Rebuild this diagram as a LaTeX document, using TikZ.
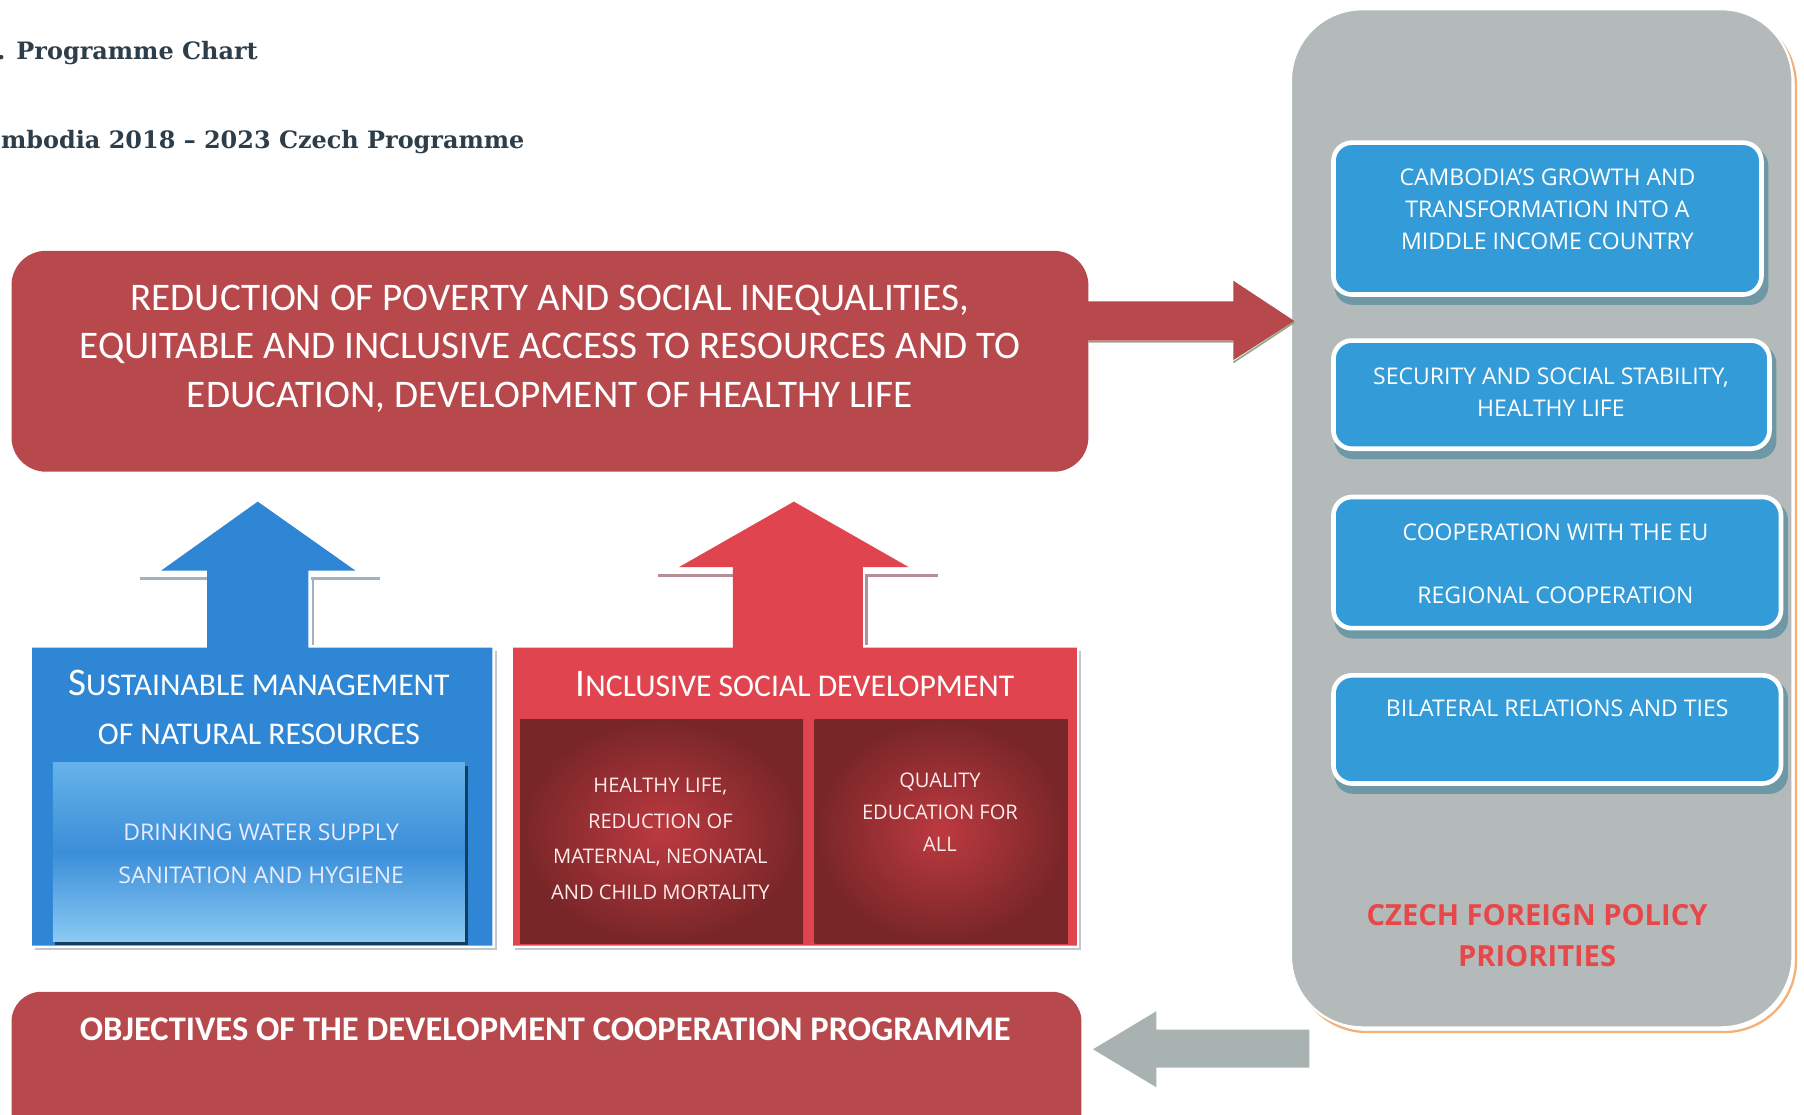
\documentclass[tikz,border=0pt]{standalone}
\usepackage{fontspec}
\newfontfamily\calib{Carlito}
\newfontfamily\osans{Open Sans}
\newfontfamily\dserif{DejaVu Serif}
\usetikzlibrary{calc}
\definecolor{topred}{HTML}{B7484C}
\definecolor{secred}{HTML}{E0454F}
\definecolor{secblue}{HTML}{2E86D4}
\definecolor{pblue}{HTML}{339CD8}
\definecolor{pshadow}{HTML}{6E98A6}
\definecolor{pgray}{HTML}{B4BABA}
\definecolor{garrow}{HTML}{A8B3B1}
\definecolor{titlec}{HTML}{2D3E4A}
\definecolor{czred}{HTML}{E8474A}
\definecolor{porange}{HTML}{F2B07A}
\definecolor{shline}{HTML}{A3B1BE}
\definecolor{ibtop}{HTML}{66B3EA}
\definecolor{ibmid}{HTML}{3A8ED8}
\definecolor{ibbot}{HTML}{8ACAF4}
\definecolor{irin}{HTML}{BC3A40}
\definecolor{irout}{HTML}{782628}
\definecolor{greensh}{HTML}{8FA888}
\tikzset{
  every node/.style={inner sep=0pt, outer sep=0pt},
  bigbox/.style={fill=topred, rounded corners=30pt},
  panelsty/.style={fill=pgray, draw=white, line width=2pt, rounded corners=62pt},
  pbox/.style={fill=pblue, draw=white, line width=4pt, rounded corners=16pt},
  ptext/.style={text=white, align=center, font=\osans\fontsize{20}{27.5}\selectfont},
  redinner/.style={inner color=irin, outer color=irout},
  inntext/.style={text=white!92!red, align=center, font=\osans\fontsize{17.5}{31}\selectfont},
  sectitle/.style={text=white, align=center, font=\calib\fontsize{27.5}{42}\selectfont},
  titletext/.style={text=titlec, font=\dserif\bfseries\fontsize{20.8}{25}\selectfont},
  shadowline/.style={shline, line width=2.5pt},
  edgeline/.style={draw=shline!70!white, line width=1.5pt}
}
\newcommand{\bigini}[1]{{\fontsize{34}{42}\selectfont #1}}
\begin{document}
\begin{tikzpicture}[x=1pt,y=-1pt]
\useasboundingbox (0,0) rectangle (1568,969);
\clip (0,0) rectangle (1568,969);
\fill[white] (0,0) rectangle (1568,969);

% titles (as far as the page shows them)
\node[titletext, anchor=base east] (t1) at (224,52) {. Programme Chart};
\node[titletext, anchor=base west] (t2) at (1,129) {mbodia 2018 – 2023 Czech Programme};

% right panel
\draw[porange, line width=2pt, rounded corners=62pt] (1126,12) rectangle (1561,897);
\node[panelsty, minimum width=436pt, minimum height=885pt] (panel) at (1340,450.5) {};

\fill[pshadow, rounded corners=16pt] (1160,128) rectangle (1537,265);
\node[pbox, minimum width=372pt, minimum height=132pt] (b1) at (1345,190) {};
\node[ptext] (b1t) at (1345,182) {CAMBODIA’S GROWTH AND\\TRANSFORMATION INTO A\\MIDDLE INCOME COUNTRY};

\fill[pshadow, rounded corners=16pt] (1160,300) rectangle (1544,399);
\node[pbox, minimum width=379pt, minimum height=94pt] (b2) at (1348.5,343) {};
\node[ptext] (b2t) at (1348,341) {SECURITY AND SOCIAL STABILITY,\\HEALTHY LIFE};

\fill[pshadow, rounded corners=16pt] (1160,436) rectangle (1554,555);
\node[pbox, minimum width=389pt, minimum height=114pt] (b3) at (1353.5,489) {};
\node[ptext] (b3t) at (1352,490) {COOPERATION WITH THE EU\\[27.5pt]REGIONAL COOPERATION};

\fill[pshadow, rounded corners=16pt] (1160,591) rectangle (1554,690);
\node[pbox, minimum width=389pt, minimum height=94pt] (b4) at (1353.5,634) {};
\node[ptext, anchor=center] (b4t) at (1353.5,616) {BILATERAL RELATIONS AND TIES};

\node[text=czred, align=center, font=\osans\bfseries\fontsize{25.3}{36}\selectfont] (czech) at (1336,813) {CZECH FOREIGN POLICY\\PRIORITIES};

% top goal box
\node[bigbox, minimum width=936pt, minimum height=192pt] (goal) at (478,314) {};
\node[text=white, align=center, font=\calib\fontsize{34}{42}\selectfont] (goaltxt) at (478,303)
  {REDUCTION OF POVERTY AND SOCIAL INEQUALITIES,\\EQUITABLE AND INCLUSIVE ACCESS TO RESOURCES AND TO\\EDUCATION, DEVELOPMENT OF HEALTHY LIFE};

% red arrow goal -> panel
\coordinate (ra0) at ($(goal.north east)+(0,61)$);
\coordinate (ra1) at ($(panel.west |- ra0)+(3,0)$);
\draw[greensh, line width=1.5pt] ($(ra0)+(0,18)$) -- ($(ra1)+(-53,18)$) ($(ra1)+(-53,36)$) -- ($(ra1)+(0,1)$);
\fill[topred] ($(ra0)+(-2,-17)$) -- ($(ra1)+(-53,-17)$) -- ($(ra1)+(-53,-35)$) -- (ra1)
  -- ($(ra1)+(-53,34)$) -- ($(ra1)+(-53,17)$) -- ($(ra0)+(-2,17)$) -- cycle;

% bottom objectives box
\node[bigbox, rounded corners=26pt, minimum width=930pt, minimum height=130pt] (obj) at (475,927) {};
\node[text=white, font=\calib\bfseries\fontsize{30}{36}\selectfont] (objtxt) at (474,895)
  {OBJECTIVES OF THE DEVELOPMENT COOPERATION PROGRAMME};

% gray arrow panel -> objectives
\coordinate (ga1) at ($(obj.east)+(10,-15)$);
\coordinate (ga0) at ($(panel.south west |- ga1)+(16,0)$);
\fill[garrow] (ga1) -- ($(ga1)+(55,-33)$) -- ($(ga1)+(55,-17)$) -- ($(ga0)+(0,-17)$)
  -- ($(ga0)+(0,16)$) -- ($(ga1)+(55,16)$) -- ($(ga1)+(55,33)$) -- cycle;

% blue section
\draw[shadowline] (122,503) -- (180,503);
\draw[shadowline] (270,503) -- (330,503);
\draw[shadowline] (272,503) -- (272,561);
\draw[edgeline] (431,566) -- (431,825) -- (30,825);
\fill[secblue] (28,822) -- (28,563) -- (180,563) -- (180,496) -- (140,496) -- (224,436)
  -- (309,496) -- (268,496) -- (268,563) -- (428,563) -- (428,822) -- cycle;
\node[sectitle] (sustt) at (225,615) {\bigini{S}USTAINABLE MANAGEMENT\\OF NATURAL RESOURCES};
\fill[black!35!secblue!70!black] (48,666) rectangle (407,821);
\node[top color=ibtop, bottom color=ibbot, middle color=ibmid, minimum width=358pt, minimum height=155pt] (water) at (225,740.5) {};
\node[text=white!92!blue, align=center, font=\osans\fontsize{20}{37}\selectfont] (watert) at (227,742)
  {DRINKING WATER SUPPLY\\SANITATION AND HYGIENE};

% red section
\draw[shadowline, shline!80!red] (572,500) -- (637,500);
\draw[shadowline, shline!80!red] (752,500) -- (815,500);
\draw[shadowline, shline!80!red] (753,500) -- (753,561);
\draw[edgeline] (939,566) -- (939,825) -- (448,825);
\fill[secred] (446,822) -- (446,563) -- (637,563) -- (637,493) -- (590,493) -- (690,436)
  -- (790,493) -- (750,493) -- (750,563) -- (936,563) -- (936,822) -- cycle;
\node[sectitle] (inclt) at (691,595) {\bigini{I}NCLUSIVE SOCIAL DEVELOPMENT};
\node[redinner, minimum width=246pt, minimum height=195pt] (health) at (575,722.5) {};
\node[redinner, minimum width=220pt, minimum height=195pt] (edu) at (818,722.5) {};
\node[inntext] (healtht) at (574,729) {HEALTHY LIFE,\\REDUCTION OF\\MATERNAL, NEONATAL\\AND CHILD MORTALITY};
\node[inntext, font=\osans\fontsize{17.5}{27.5}\selectfont] (edut) at (817,706) {QUALITY\\EDUCATION FOR\\ALL};
\end{tikzpicture}
\end{document}
